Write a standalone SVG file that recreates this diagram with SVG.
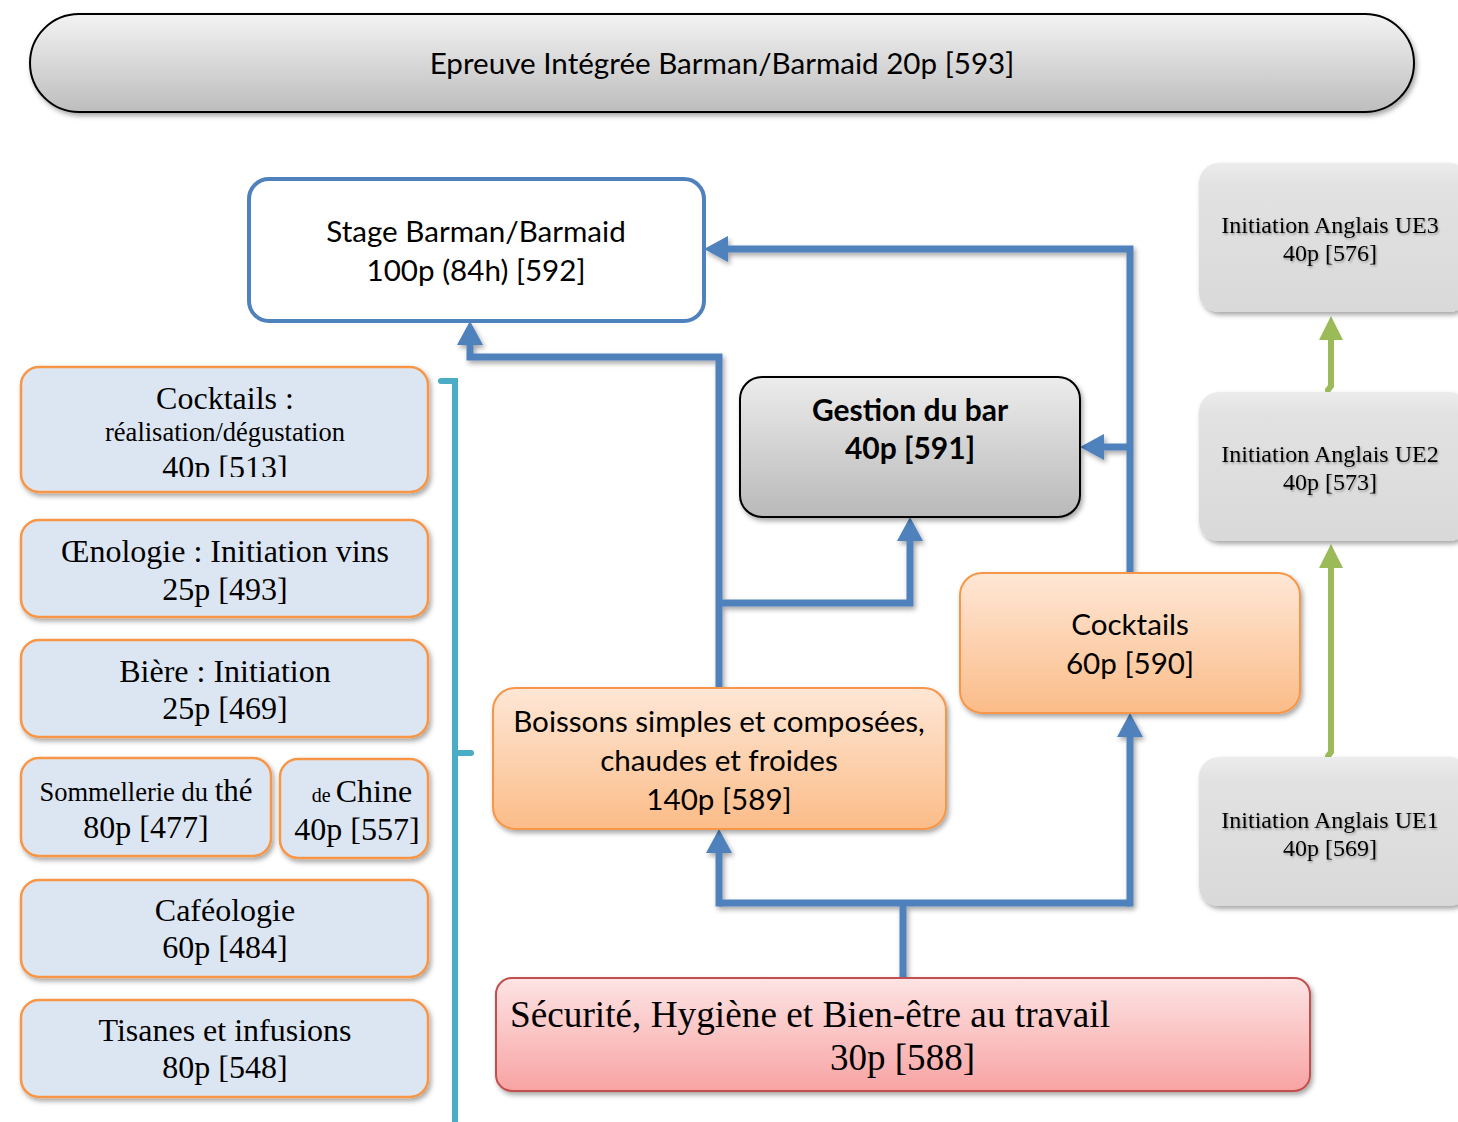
<svg xmlns="http://www.w3.org/2000/svg" width="1458" height="1122" viewBox="0 0 1458 1122">
<defs>
<style>
.cal{font-family:Lato,"Open Sans","Liberation Sans",sans-serif;fill:#000;text-anchor:middle;font-size:29.6px}
.tnr{font-family:"Liberation Serif","Times New Roman",serif;fill:#000;text-anchor:middle;font-size:32px}
.ang{font-family:"Liberation Serif","Times New Roman",serif;fill:#000;text-anchor:middle;font-size:24px}
.blue{fill:#dce6f2;stroke:#f79646;stroke-width:2.5}
.con{fill:none;stroke:#4f81bd;stroke-width:7;stroke-linejoin:miter}
.grn{fill:none;stroke:#9bbb59;stroke-width:6;stroke-linecap:round}
</style>
<linearGradient id="gBan" x1="0" y1="0" x2="0" y2="1"><stop offset="0" stop-color="#f3f3f3"/><stop offset="1" stop-color="#bdbdbd"/></linearGradient>
<linearGradient id="gGes" x1="0" y1="0" x2="0" y2="1"><stop offset="0" stop-color="#ececec"/><stop offset="1" stop-color="#b9b9b9"/></linearGradient>
<linearGradient id="gOr" x1="0" y1="0" x2="0" y2="1"><stop offset="0" stop-color="#fee7d6"/><stop offset="1" stop-color="#fbbc88"/></linearGradient>
<linearGradient id="gRed" x1="0" y1="0" x2="0" y2="1"><stop offset="0" stop-color="#fde4e4"/><stop offset="1" stop-color="#f8a3a3"/></linearGradient>
<linearGradient id="gGr" x1="0" y1="0" x2="0" y2="1"><stop offset="0" stop-color="#ececec"/><stop offset="0.15" stop-color="#e2e2e2"/><stop offset="1" stop-color="#d9d9d9"/></linearGradient>
<filter id="sh" x="-10%" y="-10%" width="120%" height="130%"><feDropShadow dx="2" dy="3" stdDeviation="2.5" flood-color="#000" flood-opacity="0.35"/></filter>
<filter id="tsh" x="-10%" y="-30%" width="120%" height="160%"><feDropShadow dx="1" dy="1.5" stdDeviation="1.2" flood-color="#000" flood-opacity="0.35"/></filter>
<marker id="ab" markerUnits="userSpaceOnUse" markerWidth="26" markerHeight="26" viewBox="0 0 26 26" refX="0" refY="13" orient="auto"><path d="M0,0 L24,13 L0,26 z" fill="#4f81bd"/></marker>
<marker id="ag" markerUnits="userSpaceOnUse" markerWidth="26" markerHeight="24" viewBox="0 0 26 24" refX="0" refY="12" orient="auto"><path d="M0,0 L24,12 L0,24 z" fill="#9bbb59"/></marker>
<clipPath id="c513"><rect x="21" y="367" width="407" height="110"/></clipPath>
</defs>

<g id="connectors">
<g filter="url(#sh)">
<path class="con" d="M903,978 V903 M719,903 H1130"/>
<path class="con" d="M719,906.5 V853" marker-end="url(#ab)"/>
<path class="con" d="M1130,906.5 V737" marker-end="url(#ab)"/>
<path class="con" d="M719,688 V357 H470 V345" marker-end="url(#ab)"/>
<path class="con" d="M719,603 H910 V541" marker-end="url(#ab)"/>
<path class="con" d="M1130,573 V249 H728" marker-end="url(#ab)"/>
<path class="con" d="M1130,447 H1104" marker-end="url(#ab)"/>
</g>
<path class="grn" d="M1328,390 L1331,386 V340" marker-end="url(#ag)"/>
<path class="grn" d="M1328,756 L1331,752 V568" marker-end="url(#ag)"/>
<path d="M441,381 H455 V1122 M455,753 H471" fill="none" stroke="#4bacc6" stroke-width="6" stroke-linecap="round"/>
</g>

<g id="n593">
<rect x="30" y="14" width="1384" height="98" rx="49" fill="url(#gBan)" stroke="#000" stroke-width="2" filter="url(#sh)"/>
<text class="cal" x="722" y="74">Epreuve Intégrée Barman/Barmaid 20p [593]</text>
</g>

<g id="n592">
<rect x="249" y="179" width="455" height="142" rx="20" fill="#fff" stroke="#4f81bd" stroke-width="4"/>
<text class="cal" x="476" y="242">Stage Barman/Barmaid</text>
<text class="cal" x="476" y="281">100p (84h) [592]</text>
</g>

<g id="n513">
<rect class="blue" x="21" y="367" width="407" height="125" rx="18" filter="url(#sh)"/>
<g clip-path="url(#c513)">
<text class="tnr" x="225" y="409">Cocktails :</text>
<text class="tnr" x="225" y="441" style="font-size:26.5px">réalisation/dégustation</text>
<text class="tnr" x="225" y="478">40p [513]</text>
</g>
</g>

<g id="n493">
<rect class="blue" x="21" y="520" width="407" height="97" rx="18" filter="url(#sh)"/>
<text class="tnr" x="225" y="562">Œnologie : Initiation vins</text>
<text class="tnr" x="225" y="600">25p [493]</text>
</g>

<g id="n469">
<rect class="blue" x="21" y="640" width="407" height="97" rx="18" filter="url(#sh)"/>
<text class="tnr" x="225" y="682">Bière : Initiation</text>
<text class="tnr" x="225" y="719">25p [469]</text>
</g>

<g id="n477">
<rect class="blue" x="21" y="758" width="250" height="98" rx="18" filter="url(#sh)"/>
<text class="tnr" x="146" y="801" style="font-size:26.5px">Sommellerie du <tspan style="font-size:31px">thé</tspan></text>
<text class="tnr" x="146" y="838">80p [477]</text>
</g>

<g id="n557">
<rect class="blue" x="280" y="759" width="148" height="99" rx="18" filter="url(#sh)"/>
<text class="tnr" x="362" y="802" style="font-size:20px">de <tspan style="font-size:32px">Chine</tspan></text>
<text class="tnr" x="357" y="840">40p [557]</text>
</g>

<g id="n484">
<rect class="blue" x="21" y="880" width="407" height="97" rx="18" filter="url(#sh)"/>
<text class="tnr" x="225" y="921">Caféologie</text>
<text class="tnr" x="225" y="958">60p [484]</text>
</g>

<g id="n548">
<rect class="blue" x="21" y="1000" width="407" height="97" rx="18" filter="url(#sh)"/>
<text class="tnr" x="225" y="1041">Tisanes et infusions</text>
<text class="tnr" x="225" y="1078">80p [548]</text>
</g>

<g id="n591">
<rect x="740" y="377" width="340" height="140" rx="22" fill="url(#gGes)" stroke="#000" stroke-width="2" filter="url(#sh)"/>
<text class="cal" x="910" y="421" style="font-size:30px;font-weight:bold">Gestion du bar</text>
<text class="cal" x="910" y="459" style="font-size:30px;font-weight:bold">40p [591]</text>
</g>

<g id="n590">
<rect x="960" y="573" width="340" height="140" rx="22" fill="url(#gOr)" stroke="#f79646" stroke-width="2" filter="url(#sh)"/>
<text class="cal" x="1130" y="635">Cocktails</text>
<text class="cal" x="1130" y="674">60p [590]</text>
</g>

<g id="n589">
<rect x="493" y="688" width="453" height="141" rx="22" fill="url(#gOr)" stroke="#f79646" stroke-width="2" filter="url(#sh)"/>
<text class="cal" x="719" y="732">Boissons simples et composées,</text>
<text class="cal" x="719" y="771">chaudes et froides</text>
<text class="cal" x="719" y="810">140p [589]</text>
</g>

<g id="n588">
<rect x="496" y="978" width="814" height="113" rx="16" fill="url(#gRed)" stroke="#c0504d" stroke-width="2" filter="url(#sh)"/>
<text x="510" y="1027" font-family="'Liberation Serif','Times New Roman',serif" font-size="37" textLength="600" lengthAdjust="spacingAndGlyphs">Sécurité, Hygiène et Bien-être au travail</text>
<text x="830" y="1070" font-family="'Liberation Serif','Times New Roman',serif" font-size="37" textLength="145" lengthAdjust="spacingAndGlyphs">30p [588]</text>
</g>

<g id="n576">
<rect x="1199" y="163" width="270" height="149" rx="20" fill="url(#gGr)" filter="url(#sh)"/>
<g filter="url(#tsh)">
<text class="ang" x="1330" y="233">Initiation Anglais UE3</text>
<text class="ang" x="1330" y="261">40p [576]</text>
</g>
</g>

<g id="n573">
<rect x="1199" y="392" width="270" height="149" rx="20" fill="url(#gGr)" filter="url(#sh)"/>
<g filter="url(#tsh)">
<text class="ang" x="1330" y="462">Initiation Anglais UE2</text>
<text class="ang" x="1330" y="490">40p [573]</text>
</g>
</g>

<g id="n569">
<rect x="1199" y="757" width="270" height="149" rx="20" fill="url(#gGr)" filter="url(#sh)"/>
<g filter="url(#tsh)">
<text class="ang" x="1330" y="828">Initiation Anglais UE1</text>
<text class="ang" x="1330" y="856">40p [569]</text>
</g>
</g>
</svg>
